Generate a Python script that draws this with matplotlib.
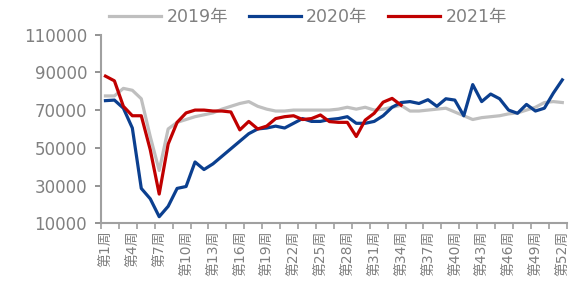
import matplotlib
matplotlib.use("Agg")
import matplotlib.pyplot as plt
import numpy as np

plt.rcParams['font.family'] = ['DejaVu Sans', 'Noto Sans CJK SC']

weeks = list(range(1, 53))
labels = ["第%d周" % w for w in weeks]

y2019 = [77500, 77500, 81500, 80500, 76000, 56000, 38000, 60000, 63500, 65000,
         66500, 67500, 68500, 70500, 72000, 73500, 74500, 72000, 70500, 69500,
         69500, 70000, 70000, 70000, 70000, 70000, 70500, 71500, 70500, 71500,
         70000, 70500, 71500, 72500, 69500, 69500, 70000, 70500, 71000, 69000,
         67000, 65000, 66000, 66500, 67000, 68000, 68500, 70000, 71500, 74000,
         74500, 74000]
y2020 = [75000, 75300, 71000, 60500, 28500, 23000, 13500, 19000, 28500, 29500,
         42500, 38500, 41500, 45500, 49500, 53500, 57500, 60000, 60500, 61500,
         60500, 63000, 65500, 64000, 64000, 65000, 65500, 66500, 63000, 63000,
         64000, 67000, 71500, 74000, 74500, 73500, 75500, 72000, 76000, 75300,
         67000, 83500, 74500, 78500, 76000, 70000, 68300, 73000, 69500, 71000,
         79000, 86000]
y2021 = [88000, 85500, 72000, 67000, 67000, 49000, 25500, 52000, 63500, 68500,
         70000, 70000, 69500, 69500, 69000, 59500, 64000, 60000, 61500, 65500,
         66500, 67000, 65000, 65500, 67400, 63900, 63500, 63500, 56000, 64700,
         68300, 74200, 76200, 72600]

grey_txt = '#808080'
fig = plt.figure(figsize=(5.76, 3.07), dpi=100)
ax = fig.add_axes([0.1753, 0.2726, 0.8087, 0.6147])

ax.plot(weeks, y2019, color='#BFBFBF', lw=2.3, label='2019年')
ax.plot(weeks, y2020, color='#0B3F8F', lw=2.3, label='2020年')
ax.plot(weeks[:len(y2021)], y2021, color='#C00000', lw=2.3, label='2021年')

ax.set_xlim(0.5, 52.5)
ax.set_ylim(10000, 110000)
ax.set_yticks(range(10000, 110001, 20000))
ax.tick_params(axis='y', labelsize=12, colors=grey_txt, length=4, width=1.2, pad=6)

# tick marks between categories every 2 weeks, labels every 3 weeks
ax.set_xticks(np.arange(0.5, 53, 2))
ax.set_xticklabels([])
ax.tick_params(axis='x', length=4, width=1.2, colors='#A0A0A0')
ax.set_xticks(weeks[::3], minor=True)
ax.set_xticklabels(labels[::3], minor=True, rotation=90, fontsize=10, color=grey_txt)
ax.tick_params(axis='x', which='minor', length=0, pad=5)

for s in ['top', 'right']:
    ax.spines[s].set_visible(False)
for s in ['left', 'bottom']:
    ax.spines[s].set_color('#A0A0A0')
    ax.spines[s].set_linewidth(1.5)

leg = fig.legend(loc='center', bbox_to_anchor=(0.535, 0.945), ncol=3, frameon=False,
                 fontsize=12.5, handlelength=3.0, handletextpad=0.3, columnspacing=1.2)
for t in leg.get_texts():
    t.set_color(grey_txt)

fig.savefig('out.png', dpi=100)
